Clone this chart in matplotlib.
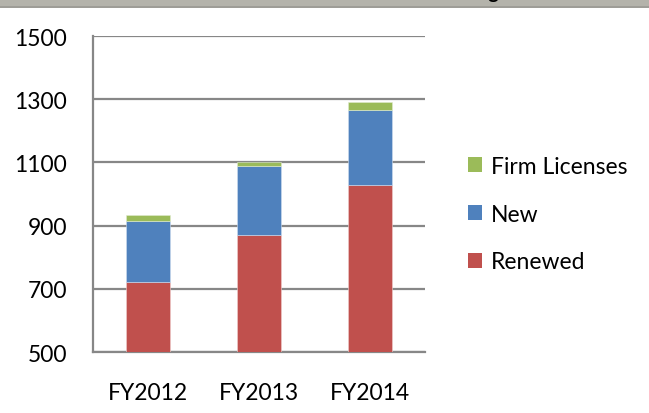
import matplotlib
matplotlib.use("Agg")
import matplotlib.pyplot as plt
from matplotlib.patches import Rectangle, Patch

categories = ["FY2012", "FY2013", "FY2014"]
renewed = [720, 870, 1030]
new = [195, 220, 235]
firm = [20, 12, 25]
yticks = [500, 700, 900, 1100, 1300, 1500]

c_renewed = "#C0504D"
c_new = "#4F81BD"
c_firm = "#9BBB59"
grid_c = "#878787"

plt.rcParams['font.family'] = ['Lato', 'DejaVu Sans']
FS = 16.5

fig = plt.figure(figsize=(6.49, 4.14), dpi=100)
ax = fig.add_axes([0.1433, 0.1473, 0.5116, 0.7633])

x = list(range(len(categories)))
base = [500] * len(categories)
r_h = [r - 500 for r in renewed]
ax.bar(x, r_h, 0.4, bottom=base, color=c_renewed, edgecolor="#f0d0cf", linewidth=0.4, zorder=3)
ax.bar(x, new, 0.4, bottom=renewed, color=c_new, edgecolor="#d0def0", linewidth=0.4, zorder=3)
top2 = [r + n for r, n in zip(renewed, new)]
ax.bar(x, firm, 0.4, bottom=top2, color=c_firm, edgecolor="#e0ecd0", linewidth=0.4, zorder=3)

ax.set_xlim(-0.5, 2.5)
ax.set_ylim(500, 1500)
ax.set_yticks(yticks)
ax.set_yticklabels([str(v) for v in yticks])
ax.set_xticks(x)
ax.set_xticklabels(categories)
ax.tick_params(axis='both', length=0, labelsize=FS, colors="black")
ax.tick_params(axis='y', pad=18.5)
ax.tick_params(axis='x', pad=21.5)
ax.yaxis.grid(True, color=grid_c, linewidth=1.6, zorder=0)
for s in ["top", "right"]:
    ax.spines[s].set_visible(False)
for s in ["left", "bottom"]:
    ax.spines[s].set_color(grid_c)
    ax.spines[s].set_linewidth(1.6)

handles = [Patch(facecolor=c_firm, label="Firm Licenses"),
           Patch(facecolor=c_new, label="New"),
           Patch(facecolor=c_renewed, label="Renewed")]
fig.legend(handles=handles, loc="center left", bbox_to_anchor=(0.7206, 0.4805),
           frameon=False, fontsize=FS, handlelength=0.62, handleheight=0.62,
           handletextpad=0.4, labelspacing=1.17, borderaxespad=0, borderpad=0)

# clipped title band at top
fig.patches.append(Rectangle((0, 1 - 7 / 414), 1, 7 / 414, transform=fig.transFigure,
                             facecolor="#B4B3AB", edgecolor="none", zorder=5))
fig.patches.append(Rectangle((0, 1 - 8.5 / 414), 1, 1.5 / 414, transform=fig.transFigure,
                             facecolor="#9E9D97", edgecolor="none", zorder=5))
fig.text(0.769, 1 + 1.5 / 414, "Licensing", ha="right", va="baseline", fontsize=14,
         fontweight="bold", zorder=6)

fig.savefig("out.png", dpi=100)
